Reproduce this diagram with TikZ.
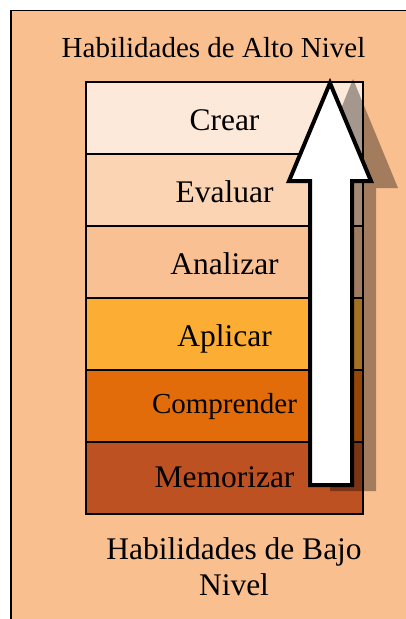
\documentclass[tikz,border=0pt]{standalone}
\usepackage{fontspec}
\setmainfont{Liberation Serif}
\usepackage{xcolor}
\usetikzlibrary{positioning}
\definecolor{fondo}{HTML}{F9BF8F}
\definecolor{crearcol}{HTML}{FDE9D9}
\definecolor{evaluarcol}{HTML}{FBD4B4}
\definecolor{analizarcol}{HTML}{F9C094}
\definecolor{aplicarcol}{HTML}{FCAD33}
\definecolor{comprendercol}{HTML}{E36C0A}
\definecolor{memorizarcol}{HTML}{BE5121}
\tikzstyle{nivel} = [rectangle, draw=black, line width=1.5pt, minimum width=277pt, minimum height=72pt, inner sep=0pt, outer sep=0pt, text height=24pt, text depth=0pt, font=\fontsize{31.5}{36}\selectfont]
\tikzstyle{rotulo} = [inner sep=0pt, align=center]
\tikzstyle{flecha} = [draw=black, line width=4pt, fill=white, miter limit=10]
\tikzstyle{sombra} = [fill=black, opacity=0.35]

\begin{document}
\begin{tikzpicture}[x=1pt, y=-1pt]
    \useasboundingbox (0,0) rectangle (406,619);
    \clip (0,0) rectangle (406,619);

    % Fondo
    \draw [fill=fondo, line width=1.5pt] (11,10.5) rectangle (440,660);

    % Niveles de la taxonomia
    \node (crear) [nivel, fill=crearcol] at (224.5,118) {Crear};
    \node (evaluar) [nivel, fill=evaluarcol, below=0pt of crear] {Evaluar};
    \node (analizar) [nivel, fill=analizarcol, below=0pt of evaluar] {Analizar};
    \node (aplicar) [nivel, fill=aplicarcol, below=0pt of analizar] {Aplicar};
    \node (comprender) [nivel, fill=comprendercol, below=0pt of aplicar, text height=15pt, font=\fontsize{29}{34}\selectfont] {Comprender};
    \node (memorizar) [nivel, fill=memorizarcol, below=0pt of comprender, text height=18pt] {Memorizar};

    % Textos
    \node (alto) [rotulo, anchor=base, font=\fontsize{29}{34}\selectfont] at (213.5,57) {Habilidades de Alto Nivel};
    \node (bajo) [rotulo, anchor=north, font=\fontsize{31.5}{36}\selectfont] at (234,537) {Habilidades de Bajo\\Nivel};

    % Flecha con sombra
    \fill [sombra] (353,79) -- (398,188) -- (376,188) -- (376,491) -- (330,491) -- (330,188) -- (309,188) -- cycle;
    \draw [flecha] (330,83) -- (371,181) -- (352,181) -- (352,485) -- (310,485) -- (310,181) -- (289,181) -- cycle;

\end{tikzpicture}
\end{document}
